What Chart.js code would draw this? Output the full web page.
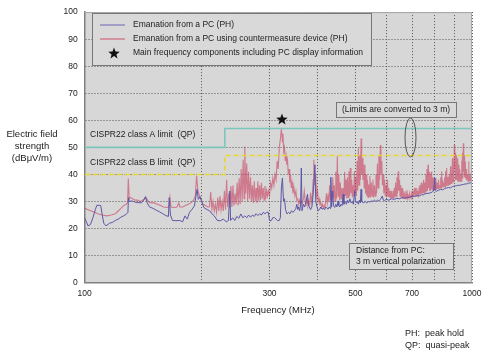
<!DOCTYPE html>
<html><head><meta charset="utf-8">
<script src="https://cdn.jsdelivr.net/npm/chart.js@4/dist/chart.umd.min.js"></script>
<style>html,body{margin:0;padding:0;background:#fff}canvas{display:block}</style>
</head><body>
<canvas id="c" width="489" height="356"></canvas>
<script>
// ---------- data ----------
const X_GRID = [100,200,300,400,500,600,700,800,900,1000];
const X_LABELS = ['100','','300','','500','','700','','','1000'];
const LIMIT_FREQ = [100,230,230,1000];
const CLASS_A = [50,50,57,57];
const CLASS_B = [40,40,47,47];
const STAR_FREQ = [323];
const STAR_VAL = [60.5];

// Emanation from a PC (PH): [MHz, dBuV/m]
const BLUE = [
[100,24],[101,22.5],[102,21],[103.5,21.5],[105,24],[106.5,27],[107.5,28.6],[109,28.6],[110,28.5],[111,25],[112,22],[113.5,21],[116,22],[118,22.3],[120,23],[122,23.5],[124,24.2],[126,24.7],[128,25.3],[129.3,26],[129.7,31.4],[130.5,30],[132,30.2],[134,30],[136,29.6],[138,29.6],[140,29.5],[142,30.5],[143.5,31.8],[145,29.5],[147,28],[150,27.5],[153,26.8],[156,26.2],[159,25.5],[162,24.8],[164.5,24.5],[165.3,31.4],[166.5,25],[168.5,23],[172,22.9],[176,23],[179,22.5],[181.5,24.7],[184,23.5],[186.5,26],[189,27],[192,28.4],[195,34.5],[196.5,30.8],[198.5,31.8],[200,30.5],[203,27.8],[207,27],[210,26.6],[213,25.5],[216,24.7],[220,23],[224,22.9],[228,23.5],[232,22.5],[235,23],[237,33.9],[238,23],[241,24],[244,23],[247,24.5],[250,23.8],[253,25.4],[256,24],[259,24.7],[262,24],[265,25],[268,24.2],[271,25],[274,24.5],[277,25.5],[280,24.8],[283,25.5],[286,25],[289,26],[292,25.5],[295,26],[298,26],[300,23],[303,22.9],[306,24],[309,24.1],[312,23.5],[315,22.9],[318,23],[320,24],[322,35],[324,38.7],[326,30.2],[328,31],[330,27],[333,25.4],[336,26],[339,25.5],[342,26.6],[345,26],[348,26.6],[351,27.5],[353,29],[355,27],[357,28],[359,26.6],[361,29],[362.5,42.4],[364,26.6],[367,29],[370,28],[373,30],[376,32.7],[378,29],[380,28],[383,27],[386,28],[389,32.7],[393,43.6],[395,30],[398,28],[401,26.6],[404,27],[407,28],[410,27.2],[413,27.5],[416,27],[419,28],[422,27.5],[425,27.2],[428,28],[430,27.5],[432,39],[434,28],[437,33.9],[439,28.5],[442,27.8],[445,29],[448,28],[451,30.2],[453,28.5],[456,28],[459,29],[462,28.5],[465,32.7],[467,29],[471,30],[474,29],[477,30.5],[480,29.5],[484,31],[487,29.5],[491,30],[494,29],[498,34],[500,30],[503,29.5],[506,30],[509,29],[512,30.5],[515,29.5],[517,34.5],[519,30],[525,29.5],[530,30],[535,29.5],[540,30],[545,29.8],[550,30.2],[555,30],[560,30.5],[565,30],[570,30.5],[575,30.2],[580,30.8],[587,32],[590,30.5],[595,30.3],[600,30.8],[610,30.5],[620,31],[630,30.8],[640,31.2],[650,31],[660,31.5],[670,31.2],[680,31.6],[690,31.5],[700,32],[710,31.8],[720,32.2],[730,32],[740,32.5],[750,32.5],[760,33],[770,33],[780,33.2],[790,33.5],[796,34],[801,38.7],[804,34],[810,33.8],[820,34.2],[830,34.5],[840,34.3],[850,34.8],[860,35],[870,35.2],[880,35],[890,35.5],[900,35.7],[910,35.8],[920,36],[930,36],[940,36.2],[950,36.3],[960,36.5],[970,36.5],[980,36.8],[990,36.9],[1000,37]
];

// Emanation from a PC using countermeasure device (PH): [MHz, dBuV/m]
const RED = [
[100,27.5],[102,27],[104,26.5],[106,26],[108,25.5],[111,25],[114,24.7],[117,25],[120,25.5],[122,26.5],[124,27.5],[126,28.5],[128,29],[129,29.5],[129.6,38.5],[130.3,31],[131,31.5],[133,31],[135,30.5],[137,30.5],[139,30],[141,30.5],[143,31],[144,31.5],[146,30],[148,29.5],[151,29.5],[154,29],[157,28.5],[160,28],[163,27.8],[165,28],[166,31.5],[167,28],[170,27.8],[173,28],[175,29.5],[176,28],[179,28],[182,28.5],[185,29],[188,29.5],[191,30.5],[193,32],[194.5,39.5],[196,34],[198,32],[200,30.5],[202,29],[205,28.5],[208,28],
[210,28],[211.5,33.5],[213,27],[214.5,30],[216,26.5],[217.5,29],[219,26],[220.5,31.5],[222,26.5],[223.5,32],[225,27],[226.5,30],[228,26.5],[229.5,34],[231,27],[232.5,38],[234,28],[235.5,33],[237,27.5],[238.5,35.7],[240,28],[241.5,36],[243,28.5],[244.5,33],[246,29],[247.5,37],[249,28.5],[250.5,38.7],[252,29],[253.5,42],[255,30],[256.5,45.4],[258,31],[259,50.3],[260.5,33],[262,44],[263.5,30],[265,41],[266.5,31],[268,39],[269.5,30],[271,36],[272.5,29.5],[274,37.5],[275.5,30],[277,35],[278.5,29.5],[280,37.5],[281.5,30],[283,36],[284.5,30.5],[286,36.9],[287.5,31],[289,35],[290.5,30.5],[292,35.7],[293.5,31],[295,34],[296.5,32],[298,33.9],
[300,32],[302,36.9],[304,35],[306,38.7],[308,36],[310,40],[312,38],[314,45],[316,42],[318,50],[320,53],[322,57],[324,52],[325,55],[326.5,48.5],[328,50],[329.5,45],[331,47],[332.5,43.6],[334,45],[335.5,40],[337,42],[338.5,37],[340,40],[341.5,35],[343,37],[345,33],[347,35],[349,32],[351,33.9],[353,30.5],[355,31],[357,29],[359,30.5],[361,29],[363,30],[365,29.5],[367,31],[369,33.9],[371,30],[373,29],[375,31],[377,28.5],[379,30],[381,29],[383,33.2],[385,30],[387,32],[389,38],[390.5,45.4],[392,36],[393.5,40],[395,38.7],[397,32],[399,34],[401,30],[403,31],[405,29],[407,29.5],[409,28],[411,29],[413,27.8],[415,28.5],[417,27.8],
[419,30],[421,33],[423,29.5],[425,32],[427,30],[429,36],[431,30.5],[433,34],[435,30],[437,39],[439,31],[441,36],[443,30],[445,41],[447,31],[449,46.7],[451,32],[453,40],[455,30.5],[457,37],[459,31],[461,35],[463,30.5],[465,35],[467,31],[469,41],[471,32],[473,38],[475,31],[477,39],[479,31.5],[481,41.2],[483,32],[485,42.4],[487,33],[489,38],[491,31.5],[493,36],[495,32],[497,41.2],[499,33],[501,39],[503,32],[505,45],[507,34],[509,49.7],[511,36],[513,47],[515,38],[517,53.3],[519,40],[521,46],[523,38],[525,43.6],[527,35],[529,43.7],[531,33],[533,40],[535,32],[537,38],[539,31.5],[541,36.3],[543,32],[545,39.4],[547,31.5],[550,37],[552,32],[555,38.1],[557,31.5],[560,36],[562,32],[565,40],[567,33],[570,44],[572,35],[575,47],[577,38],[580,50.9],[582,40],[585,45],[587,36],[590,40],[592,33],[595,38.1],[597,32],[600,36],[602,31.5],[605,38.1],[607,32],[610,35],[612,31.5],[615,33.9],[617,31],[620,33],[622,31.5],[625,33.9],[627,31],[630,35],[632,31.5],[635,37],[637,32],[640,39],[642,33],[645,41.2],[647,34],[650,38],[652,32],[655,36],[657,31.5],[660,35],[662,31],[665,33],[667,31],[670,32.5],[672,31],[675,34],[677,31],[680,33],[682,31.2],[685,32],[687,31.4],[690,33],[692,31.4],[695,32.5],[697,31.6],[700,34],[702,31.8],[705,33],[707,32],[710,35],[712,32.2],[715,33.9],[717,32],[720,35],[722,32.3],[725,33.9],[727,32.5],[730,34.5],[732,32.5],[735,36],[737,32.8],[740,37],[742,33],[745,35],[747,33],[750,38],[752,33.2],[755,37],[757,33.5],[760,40],[762,34],[765,42],[767,34],[770,43.6],[772,35],[775,41],[777,34],[780,40],[782,34],[785,41],[787,34.5],[790,39],[792,34],[795,38.7],[797,34],[800,37],[802,34.5],[805,38.7],[807,34.5],[810,36],[812,34.5],[815,37],[817,34.8],[820,38],[822,35],[825,36],[827,35],[830,39],[832,35],[835,41.2],[837,35.5],[840,38],[842,35.5],[845,37],[847,35.5],[850,39],[852,35.5],[855,41.2],[857,36],[860,42.4],[862,36],[865,39],[867,36],[870,38],[872,36],[875,40],[877,36],[880,43],[882,36.5],[885,40],[887,36.5],[890,46],[892,37],[895,44],[897,37],[900,50.9],[903,42],[905,48],[907,38],[910,47],[912,38],[915,44],[917,37.5],[920,46],[922,37.5],[925,43.6],[927,37.5],[930,42],[932,37.5],[935,40],[937,37.5],[940,45],[942,38],[945,48],[947,38.5],[950,51.5],[952,41],[955,47],[957,39],[960,44.8],[962,38.5],[965,42],[967,38],[970,41],[972,38],[975,40],[977,37.5],[980,44.8],[982,38],[985,40],[987,37.5],[990,39],[992,37.5],[995,38.7],[1000,37.5]
];

// ---------- drawing ----------
const FONT = '"Liberation Sans", Arial, sans-serif';
const toXY = arr => arr.map(p => ({x: p[0], y: p[1]}));
const zipXY = (xs, ys) => xs.map((x, i) => ({x, y: ys[i]}));

function makeStar(size) {
  const c = document.createElement('canvas');
  c.width = size; c.height = size;
  const g = c.getContext('2d');
  const r = size / 2, ri = r * 0.42, cy = r + size * 0.05;
  g.beginPath();
  for (let k = 0; k < 10; k++) {
    const ang = -Math.PI / 2 + k * Math.PI / 5;
    const rr = k % 2 ? ri : r;
    g.lineTo(r + rr * Math.cos(ang), cy + rr * Math.sin(ang));
  }
  g.closePath();
  g.fillStyle = '#111';
  g.fill();
  return c;
}
const STAR_IMG = makeStar(12);

const overlay = {
  id: 'overlay',
  beforeDraw(chart) {
    const {ctx, chartArea: a} = chart;
    ctx.save();
    ctx.fillStyle = '#d7d7d7';
    ctx.fillRect(a.left, a.top, a.right - a.left, a.bottom - a.top);
    ctx.restore();
  },
  afterDraw(chart) {
    const {ctx, chartArea: a} = chart;
    ctx.save();
    ctx.strokeStyle = '#a8a8a8'; ctx.lineWidth = 1;
    ctx.beginPath();
    ctx.moveTo(a.left, a.top + 0.5); ctx.lineTo(a.right - 0.5, a.top + 0.5); ctx.lineTo(a.right - 0.5, a.bottom);
    ctx.stroke();

    const txt = (s, x, y, size, align) => {
      ctx.font = size + 'px ' + FONT;
      ctx.fillStyle = '#222';
      ctx.textAlign = align || 'left';
      ctx.textBaseline = 'middle';
      ctx.fillText(s, x, y);
    };
    const box = (x, y, w, h) => {
      ctx.fillStyle = '#d9d9d9';
      ctx.fillRect(x, y, w, h);
      ctx.strokeStyle = '#777'; ctx.lineWidth = 1;
      ctx.strokeRect(x + 0.5, y + 0.5, w, h);
    };

    box(92, 13, 279, 52);
    ctx.lineWidth = 1;
    ctx.strokeStyle = '#6a64b2';
    ctx.beginPath(); ctx.moveTo(100, 25); ctx.lineTo(125, 25); ctx.stroke();
    ctx.strokeStyle = '#cf4f69';
    ctx.beginPath(); ctx.moveTo(100, 39); ctx.lineTo(125, 39); ctx.stroke();
    ctx.drawImage(STAR_IMG, 108, 47);
    txt('Emanation from a PC (PH)', 133, 25, 8.5);
    txt('Emanation from a PC using countermeasure device (PH)', 133, 39, 8.5);
    txt('Main frequency components including PC display information', 133, 53, 8.5);

    txt('CISPR22 class A limit  (QP)', 90, 135, 8.5);
    txt('CISPR22 class B limit  (QP)', 90, 163, 8.5);

    box(336, 102, 120, 15);
    txt('(Limits are converted to 3 m)', 396, 110, 8.5, 'center');
    ctx.strokeStyle = '#555'; ctx.lineWidth = 1;
    ctx.beginPath(); ctx.ellipse(410.5, 137.5, 5.5, 19.5, 0, 0, Math.PI * 2); ctx.stroke();

    box(349, 243, 104, 26);
    txt('Distance from PC:', 356, 251, 8.5);
    txt('3 m vertical polarization', 356, 262, 8.5);

    txt('Electric field', 32, 134, 9.5, 'center');
    txt('strength', 32, 146, 9.5, 'center');
    txt('(dB\u03BCV/m)', 32, 158, 9.5, 'center');
    txt('Frequency (MHz)', 278, 310, 9.5, 'center');

    txt('PH:  peak hold', 405, 334, 9);
    txt('QP:  quasi-peak', 405, 346, 9);
    ctx.restore();
  }
};

new Chart(document.getElementById('c'), {
  type: 'line',
  data: {
    datasets: [
      {label: 'Class A', data: zipXY(LIMIT_FREQ, CLASS_A), borderColor: '#7cc6be', borderWidth: 1.6, pointRadius: 0, order: 0},
      {label: 'Class B', data: zipXY(LIMIT_FREQ, CLASS_B), borderColor: '#e9d62e', borderWidth: 1.6, borderDash: [5, 3], pointRadius: 0, order: 0},
      {label: 'Main frequency components', data: zipXY(STAR_FREQ, STAR_VAL), showLine: false, pointStyle: STAR_IMG, pointRadius: 6, order: 0},
      {label: 'Emanation from a PC (PH)', data: toXY(BLUE), borderColor: '#5d56a6', borderWidth: 1, pointRadius: 0, order: 1},
      {label: 'Emanation from a PC using countermeasure device (PH)', data: toXY(RED), borderColor: 'rgba(200,58,90,0.6)', borderWidth: 1.1, pointRadius: 0, order: 2}
    ]
  },
  options: {
    responsive: false,
    animation: false,
    events: [],
    layout: {padding: {top: 9, right: 17, left: 0, bottom: 0}},
    elements: {line: {tension: 0}},
    plugins: {legend: {display: false}, tooltip: {enabled: false}},
    scales: {
      x: {
        type: 'logarithmic', min: 100, max: 1000,
        afterBuildTicks: s => { s.ticks = X_GRID.map(v => ({value: v})); },
        afterFit: s => { s.height = 73.3; },
        ticks: {autoSkip: false, maxRotation: 0, padding: 6, color: '#222', font: {family: FONT, size: 8.5},
          callback: v => { const i = X_GRID.indexOf(v); return i >= 0 ? X_LABELS[i] : ''; }},
        grid: {color: '#555', lineWidth: 1, drawTicks: false},
        border: {color: '#808080', width: 1.5, dash: [1, 2]}
      },
      y: {
        min: 0, max: 100,
        afterFit: s => { s.width = 84.7; },
        ticks: {stepSize: 10, padding: 7, color: '#222', font: {family: FONT, size: 8.5}},
        grid: {color: '#555', lineWidth: 1, drawTicks: false},
        border: {color: '#808080', width: 1.5, dash: [1, 2]}
      }
    }
  },
  plugins: [overlay]
});
</script>
</body></html>
